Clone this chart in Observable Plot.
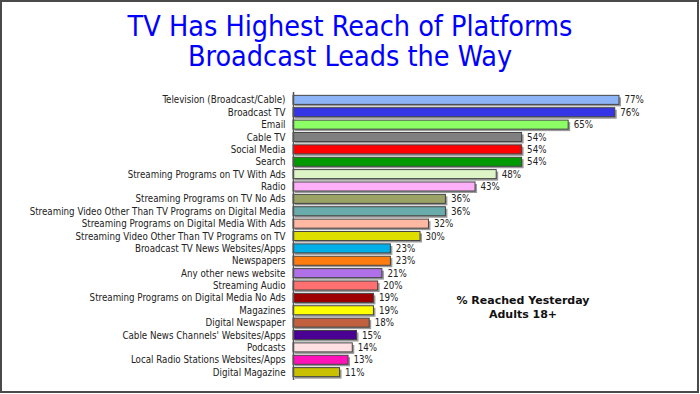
<!DOCTYPE html>
<html>
<head>
<meta charset="utf-8">
<script src="https://cdn.jsdelivr.net/npm/d3@7"></script>
<script src="https://cdn.jsdelivr.net/npm/@observablehq/plot@0.6"></script>
<style>
  html, body { margin: 0; padding: 0; background: #fff; }
  #frame { position: relative; width: 699px; height: 393px; box-sizing: border-box; border: 2px solid #4a4a4a; overflow: hidden; }
  #chart { position: absolute; left: -2px; top: -2px; width: 700px; height: 394px; }
  #chart svg { max-width: none !important; }
  .title { position: absolute; left: -2px; width: 700px; height: 30px; text-align: center; color: #0000ff;
    font-family: "DejaVu Sans Condensed", "Liberation Sans Narrow", sans-serif; font-size: 28.5px; line-height: 30px; white-space: nowrap; }
  #note { position: absolute; left: 421px; top: 292px; width: 200px; text-align: center; color: #111;
    font-family: "DejaVu Sans", Verdana, sans-serif; font-weight: bold; font-size: 11px; line-height: 14px; }
</style>
</head>
<body>
<div id="frame">
  <div id="chart"></div>
  <div class="title" style="top:10px">TV Has Highest Reach of Platforms</div>
  <div class="title" style="top:40px">Broadcast Leads the Way</div>
  <div id="note">% Reached Yesterday<br>Adults 18+</div>
</div>
<script>
const categories = [
  "Television (Broadcast/Cable)",
  "Broadcast TV",
  "Email",
  "Cable TV",
  "Social Media",
  "Search",
  "Streaming Programs on TV With Ads",
  "Radio",
  "Streaming Programs on TV No Ads",
  "Streaming Video Other Than TV Programs on Digital Media",
  "Streaming Programs on Digital Media With Ads",
  "Streaming Video Other Than TV Programs on TV",
  "Broadcast TV News Websites/Apps",
  "Newspapers",
  "Any other news website",
  "Streaming Audio",
  "Streaming Programs on Digital Media No Ads",
  "Magazines",
  "Digital Newspaper",
  "Cable News Channels' Websites/Apps",
  "Podcasts",
  "Local Radio Stations Websites/Apps",
  "Digital Magazine"
];
const values = [77, 76, 65, 54, 54, 54, 48, 43, 36, 36, 32, 30, 23, 23, 21, 20, 19, 19, 18, 15, 14, 13, 11];
const palette = [
  "#8db4f7", "#3535e6", "#8cff66", "#808080", "#ff0000", "#009a00", "#ddf5c6", "#ffb0f8",
  "#9aa365", "#6aacac", "#ffb9a3", "#dede00", "#00aee8", "#ff7d10", "#b070e8", "#ff7070",
  "#9e0000", "#ffff00", "#c0603e", "#4a0092", "#ffe0e2", "#ff12b8", "#c8c000"
];

const data = categories.map((c, i) => ({category: c, value: values[i]}));

const plot = Plot.plot({
  width: 700,
  height: 394,
  marginLeft: 293,
  marginRight: 26,
  marginTop: 92,
  marginBottom: 14,
  style: {fontFamily: "'DejaVu Sans Condensed', sans-serif", fontSize: "9.7px", color: "#222", background: "transparent", maxWidth: "none"},
  x: {domain: [0, 90], axis: null},
  y: {domain: categories, padding: 0.27, round: false, label: null},
  color: {type: "ordinal", domain: categories, range: palette},
  marks: [
    Plot.axisY({tickSize: 0, tickPadding: 8, label: null}),
    Plot.barX(data, {y: "category", x: "value", fill: "#9a9a9a", dx: 2, dy: 2}),
    Plot.barX(data, {y: "category", x: "value", fill: "category", stroke: "#444", strokeWidth: 1}),
    Plot.text(data, {y: "category", x: "value", text: d => d.value + "%", dx: 5, textAnchor: "start", fill: "#222"}),
    Plot.ruleX([0], {stroke: "#555", strokeWidth: 1.5})
  ]
});
document.getElementById("chart").appendChild(plot);
</script>
</body>
</html>
